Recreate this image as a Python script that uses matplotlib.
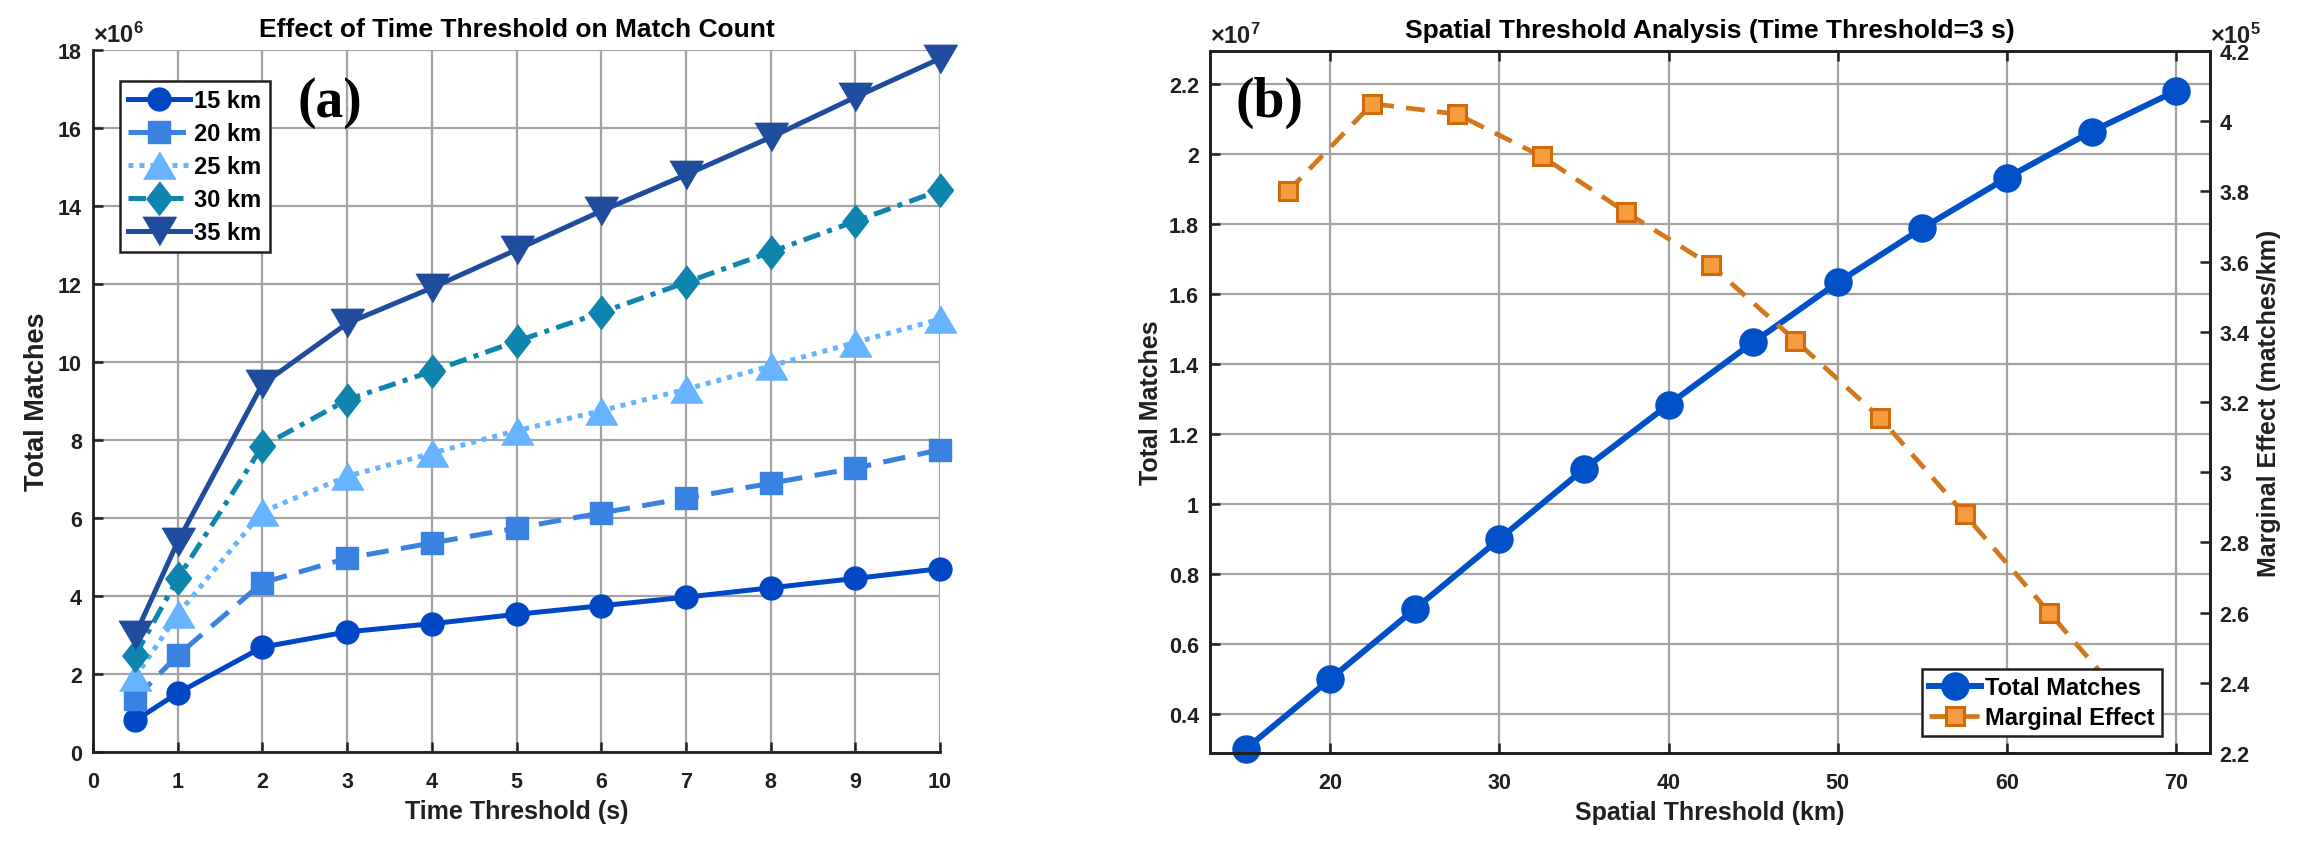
import numpy as np
import matplotlib
matplotlib.use('Agg')
import matplotlib.pyplot as plt
from matplotlib.ticker import FuncFormatter, MultipleLocator

plt.rcParams['font.family'] = ['Liberation Sans', 'DejaVu Sans']
plt.rcParams['font.weight'] = 'bold'
plt.rcParams['mathtext.fontset'] = 'custom'
plt.rcParams['mathtext.rm'] = 'Liberation Sans'
plt.rcParams['mathtext.it'] = 'Liberation Sans:italic'

# (a) time threshold sweep
time_thr = [0.5, 1, 2, 3, 4, 5, 6, 7, 8, 9, 10]
m15 = [0.81, 1.51, 2.69, 3.08, 3.29, 3.53, 3.75, 3.97, 4.21, 4.45, 4.70]
m20 = [1.37, 2.48, 4.34, 4.97, 5.36, 5.74, 6.13, 6.51, 6.89, 7.28, 7.75]
m25 = [1.92, 3.53, 6.16, 7.07, 7.66, 8.24, 8.75, 9.30, 9.90, 10.50, 11.10]
m30 = [2.48, 4.45, 7.84, 9.03, 9.76, 10.53, 11.27, 12.04, 12.82, 13.61, 14.40]
m35 = [3.01, 5.39, 9.43, 10.99, 11.90, 12.88, 13.87, 14.80, 15.76, 16.79, 17.78]
labels_a = ['15 km', '20 km', '25 km', '30 km', '35 km']

# (b) spatial threshold sweep
spatial_thr = [15, 20, 25, 30, 35, 40, 45, 50, 55, 60, 65, 70]
total_matches = [0.30, 0.50, 0.70, 0.90, 1.10, 1.284, 1.462, 1.633, 1.788, 1.932, 2.064, 2.18]
mid_thr = [17.5, 22.5, 27.5, 32.5, 37.5, 42.5, 47.5, 52.5, 57.5, 62.5, 67.5]
marginal = [3.80, 4.05, 4.02, 3.90, 3.74, 3.59, 3.375, 3.155, 2.88, 2.60, 2.32]

W, H = 2306, 853
fig = plt.figure(figsize=(W / 100, H / 100), dpi=100)

grid_kw = dict(color='#a3a3a3', linewidth=1.6)
tick_fs = 15.5

def style_axis(ax):
    ax.tick_params(direction='in', length=7, width=1.8, labelsize=tick_fs, colors='#202020')
    for lab in ax.get_xticklabels() + ax.get_yticklabels():
        lab.set_fontweight('bold')

# ---------- (a) ----------
ax = fig.add_axes([93 / W, (H - 753) / H, 847 / W, 702 / H])
up_tri = [(-1, -0.85), (1, -0.85), (0, 0.85)]
dn_tri = [(-1, 0.85), (1, 0.85), (0, -0.85)]
diamond = [(0, 1), (0.78, 0), (0, -1), (-0.78, 0)]
series = [
    (np.array(m15) * 1e6, '#0047c6', '-', 'o', 16.5),
    (np.array(m20) * 1e6, '#3a82e2', (0, (4.5, 2.5)), 's', 16),
    (np.array(m25) * 1e6, '#66b3ff', (0, (1, 1.2)), up_tri, 23),
    (np.array(m30) * 1e6, '#0f84ad', (0, (3.5, 1.5, 1, 1.5)), diamond, 24),
    (np.array(m35) * 1e6, '#1f4c9c', '-', dn_tri, 24),
]
for (vals, col, ls, mk, ms), lab in zip(series, labels_a):
    ax.plot(time_thr, vals, color=col, linestyle=ls, linewidth=3.6, marker=mk,
            markersize=ms, markerfacecolor=col, markeredgecolor=col, label=lab,
            clip_on=False)
ax.set_xlim(0, 10)
ax.set_ylim(0, 18e6)
ax.xaxis.set_major_locator(MultipleLocator(1))
ax.yaxis.set_major_locator(MultipleLocator(2e6))
ax.yaxis.set_major_formatter(FuncFormatter(lambda v, p: '%g' % (v / 1e6)))
ax.grid(True, **grid_kw)
ax.set_axisbelow(True)
for s in ['top', 'right']:
    ax.spines[s].set_visible(False)
for s in ['left', 'bottom']:
    ax.spines[s].set_linewidth(2)
    ax.spines[s].set_color('#202020')
style_axis(ax)
ax.tick_params(axis='x', pad=14)
ax.tick_params(axis='y', pad=8)
ax.set_xlabel('Time Threshold (s)', fontsize=18, fontweight='bold', labelpad=5, color='#202020')
ax.set_ylabel('Total Matches', fontsize=19.5, fontweight='bold', labelpad=6, color='#202020')
ax.set_title('Effect of Time Threshold on Match Count', fontsize=19, fontweight='bold', pad=10)
ax.text(0.0, 1.005, r'$\times10^{6}$', transform=ax.transAxes, fontsize=17,
        fontweight='normal', ha='left', va='bottom', color='#202020')
ax.text(0.28, 0.926, '(a)', transform=ax.transAxes, fontsize=40, fontweight='bold',
        family='Liberation Serif', ha='center', va='center')
leg = ax.legend(loc='upper left', bbox_to_anchor=(0.032, 0.956), borderaxespad=0,
                fontsize=17, handlelength=2.6, labelspacing=0.42, handletextpad=0.2,
                borderpad=0.35, fancybox=False, edgecolor='#202020', framealpha=1)
leg.get_frame().set_linewidth(1.8)

# ---------- (b) ----------
bx = fig.add_axes([1210 / W, (H - 754) / H, 1000 / W, 702 / H])
bx2 = bx.twinx()
l1, = bx.plot(spatial_thr, np.array(total_matches) * 1e7, color='#0050c8', linewidth=4.3,
              marker='o', markersize=19.5, label='Total Matches', clip_on=False)
l2, = bx2.plot(mid_thr, np.array(marginal) * 1e5, color='#d4761a', linewidth=3.4,
               linestyle=(0, (4, 2.6)), marker='s', markersize=13,
               markerfacecolor='#f59c40', markeredgecolor='#d06a0c', markeredgewidth=2.2,
               label='Marginal Effect')
bx.set_xlim(12.9, 72)
bx.set_ylim(0.289e7, 2.294e7)
bx2.set_ylim(2.2e5, 4.2e5)
bx.xaxis.set_major_locator(MultipleLocator(10))
bx.yaxis.set_major_locator(MultipleLocator(0.2e7))
bx2.yaxis.set_major_locator(MultipleLocator(0.2e5))
bx.yaxis.set_major_formatter(FuncFormatter(lambda v, p: '%g' % round(v / 1e7, 4)))
bx2.yaxis.set_major_formatter(FuncFormatter(lambda v, p: '%g' % round(v / 1e5, 4)))
bx.grid(True, **grid_kw)
bx.set_axisbelow(True)
for a in (bx, bx2):
    for s in a.spines.values():
        s.set_linewidth(2)
        s.set_color('#202020')
bx.spines['top'].set_color('#404040')
style_axis(bx)
style_axis(bx2)
bx.tick_params(top=True, right=False)
bx.tick_params(axis='x', pad=14)
bx.tick_params(axis='y', pad=8)
bx2.tick_params(axis='y', pad=7)
bx.set_xlabel('Spatial Threshold (km)', fontsize=18, fontweight='bold', labelpad=5, color='#202020')
bx.set_ylabel('Total Matches', fontsize=18, fontweight='bold', labelpad=4, color='#202020')
bx2.set_ylabel('Marginal Effect (matches/km)', fontsize=18, fontweight='bold', labelpad=5,
               color='#202020')
bx.set_title('Spatial Threshold Analysis (Time Threshold=3 s)', fontsize=19, fontweight='bold', pad=10)
bx.text(0.0, 1.005, r'$\times10^{7}$', transform=bx.transAxes, fontsize=17,
        ha='left', va='bottom', color='#202020')
bx.text(1.0, 1.005, r'$\times10^{5}$', transform=bx.transAxes, fontsize=17,
        ha='left', va='bottom', color='#202020')
bx.text(0.059, 0.927, '(b)', transform=bx.transAxes, fontsize=40, fontweight='bold',
        family='Liberation Serif', ha='center', va='center')
leg2 = bx2.legend([l1, l2], ['Total Matches', 'Marginal Effect'], loc='lower right',
                  bbox_to_anchor=(0.952, 0.024), borderaxespad=0, fontsize=17,
                  handlelength=2.2, labelspacing=0.3, handletextpad=0.2, borderpad=0.3,
                  fancybox=False, edgecolor='#202020', framealpha=1)
leg2.get_frame().set_linewidth(1.8)
leg2.set_zorder(10)

fig.savefig('out.png', dpi=100)
